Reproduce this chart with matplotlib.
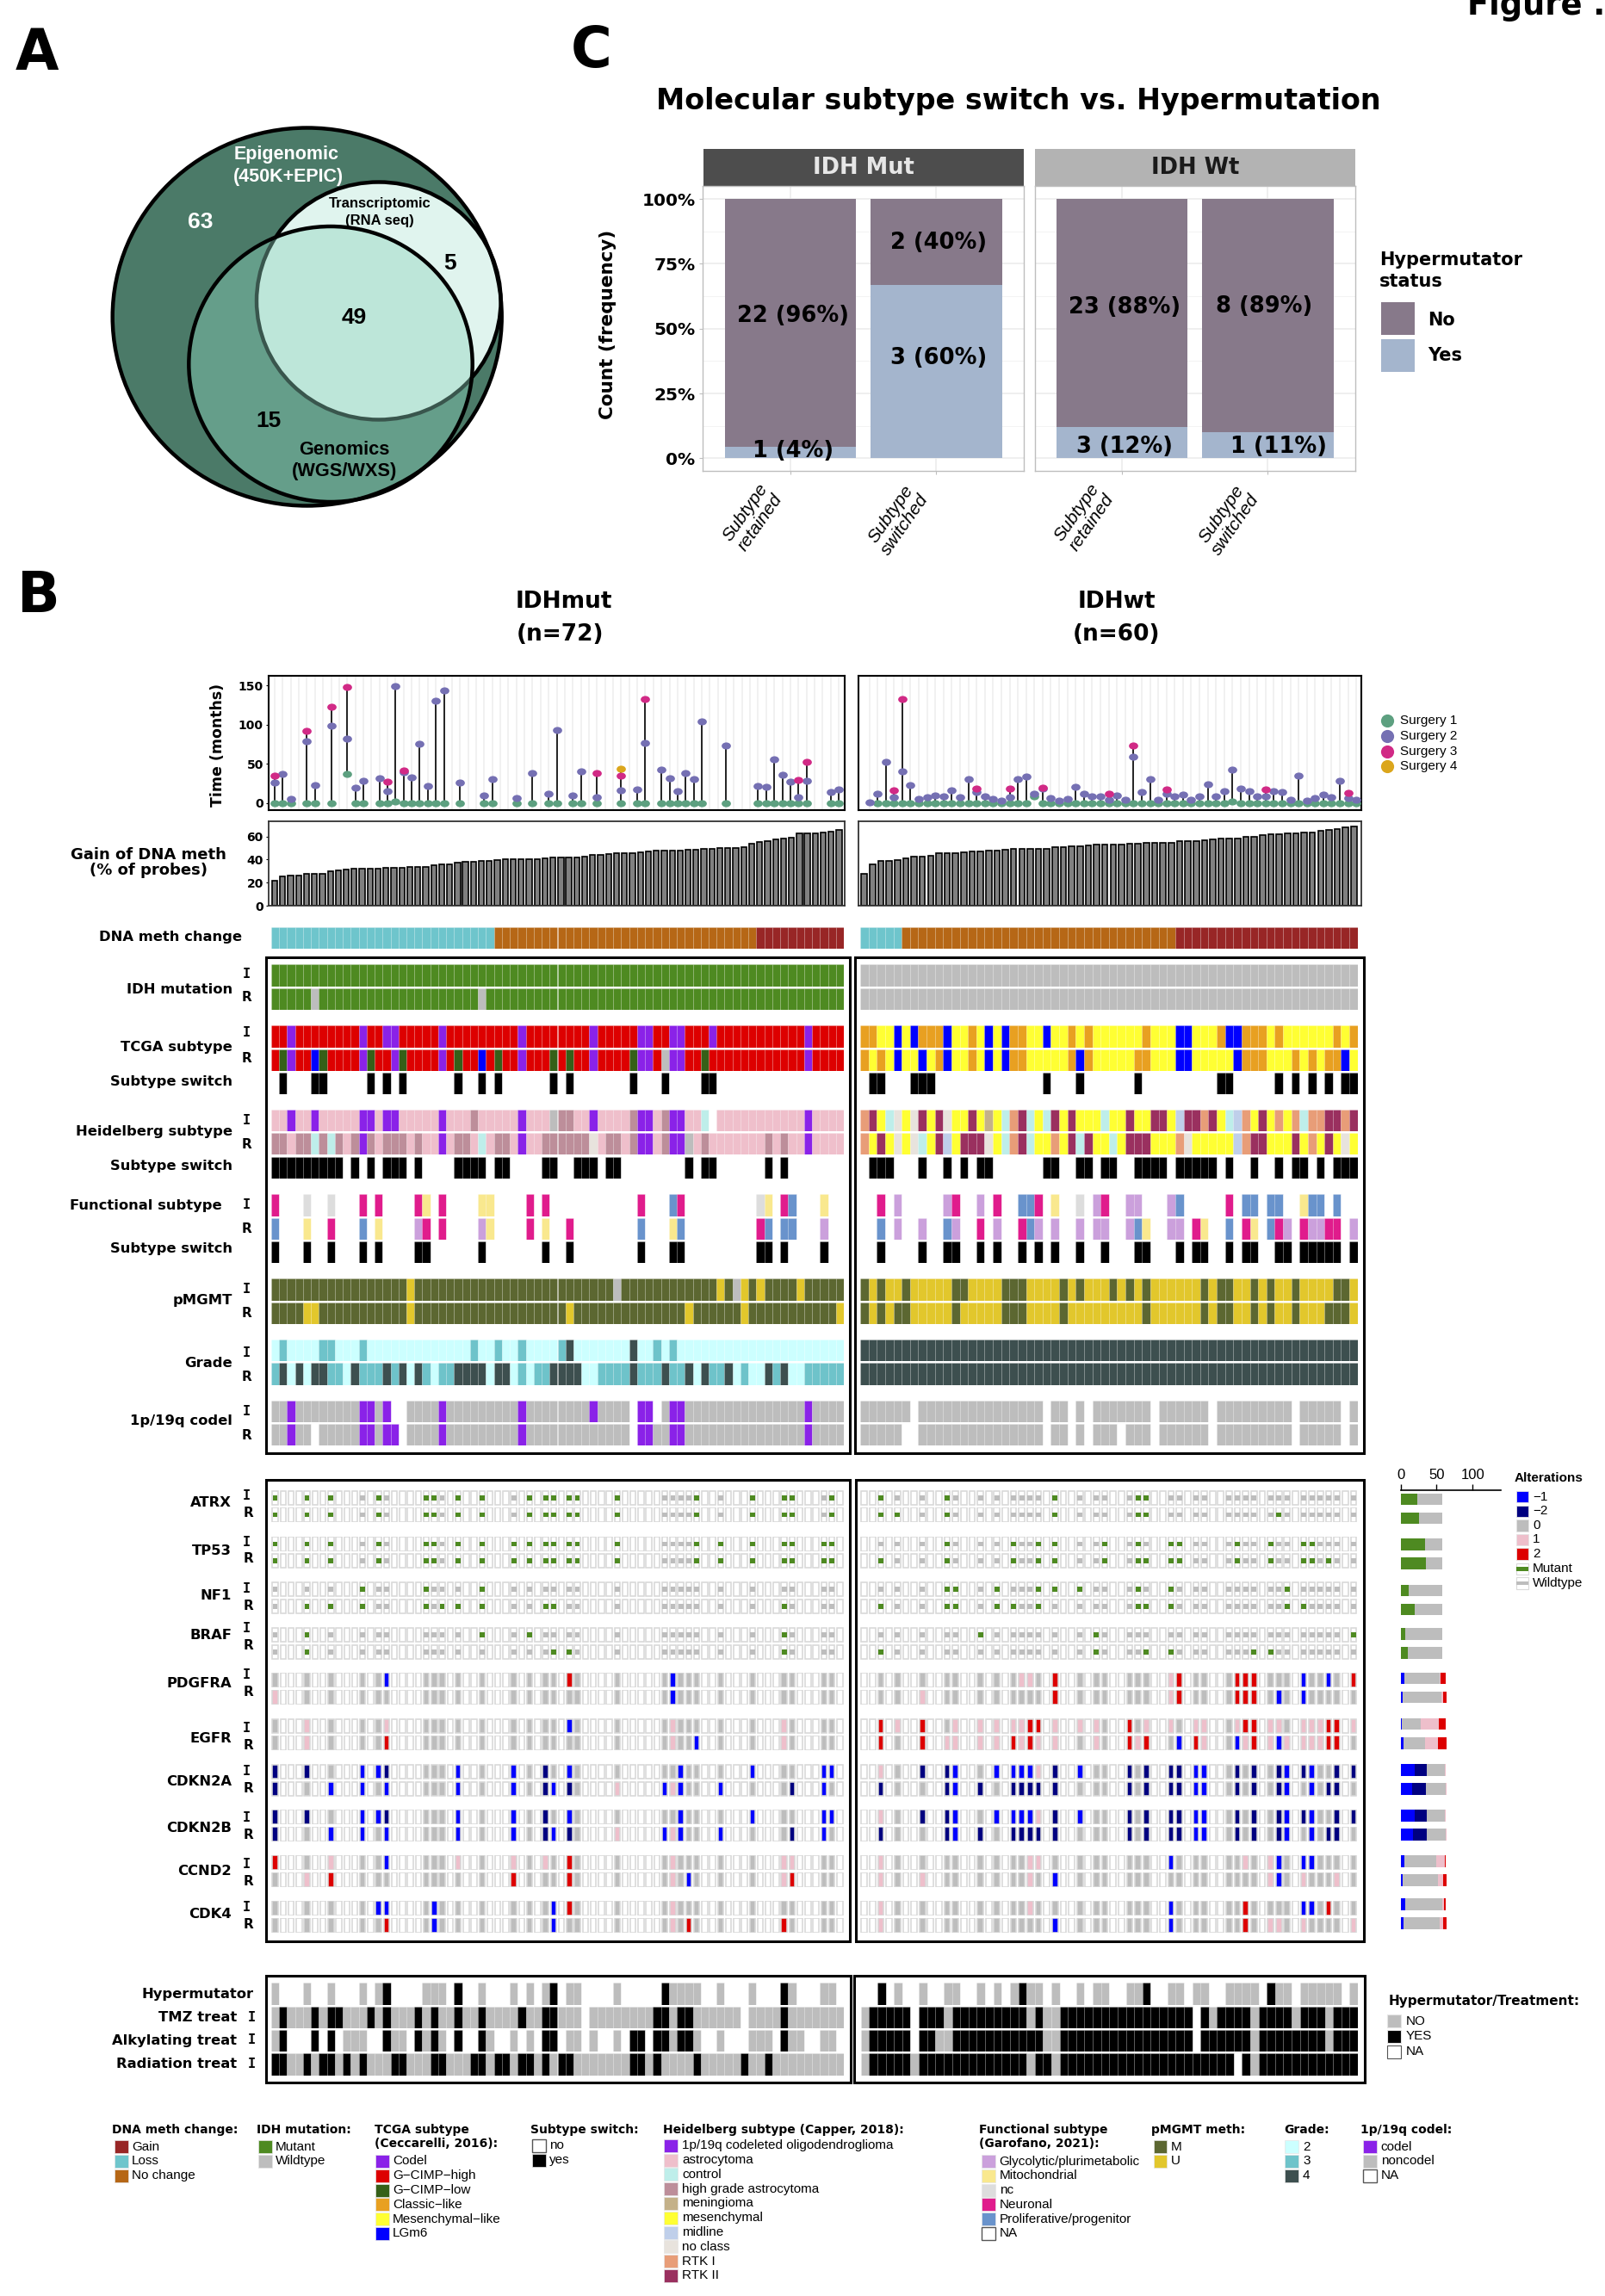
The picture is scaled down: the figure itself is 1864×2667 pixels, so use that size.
"""
Figure with venn of cohort (A), oncoprint of paired samples (B), subtype switch bars (C).
Everything is placed in pixels of the 1865x2667 page.
"""

import matplotlib
matplotlib.use('Agg')
import matplotlib.pyplot as plt
from matplotlib.patches import Ellipse, Rectangle
from matplotlib.path import Path
from matplotlib.transforms import Affine2D

W, H = 1865, 2667
SANS = 'Liberation Sans'
VERD = 'DejaVu Sans'


def cells(n, default, **cats):
    """Row of n categories: default everywhere, named columns overridden."""
    out = [default] * n
    for cat, idx in cats.items():
        for i in idx:
            out[i] = cat
    return out


N_MUT = 72
N_WT = 60

# --- panel C ---
C_YES = [[4.5, 66.7], [12, 10]]
C_LABELS = [
    [("22 (96%)", 1, 55), ("1 (4%)", 1, 2.8), ("2 (40%)", 2, 83), ("3 (60%)", 2, 38.5)],
    [("23 (88%)", 1, 58.3), ("3 (12%)", 1, 4.5), ("8 (89%)", 1.96, 58.6), ("1 (11%)", 2.06, 4.5)],
]

# --- time between surgeries ---
MUT_S2 = {0: 25.6, 1: 36.6, 2: 5, 4: 78.7, 5: 22.7, 7: 99, 9: 82, 10: 19.8, 11: 28.5, 13: 31.5, 14: 15,
          15: 149, 16: 39, 17: 32.6, 18: 75.7, 19: 22, 20: 130.6, 21: 144, 23: 25.6, 26: 10, 27: 30.4,
          30: 6, 32: 38.4, 34: 11.7, 35: 93, 37: 10, 38: 40, 40: 7, 43: 15.7, 45: 17.5, 46: 77, 48: 43,
          49: 31.5, 50: 15, 51: 38.4, 52: 30.4, 53: 104, 56: 73.5, 60: 21.6, 61: 20.9, 62: 56, 63: 35.5,
          64: 26.7, 65: 7, 66: 28.5, 69: 14, 70: 17.5}
MUT_S1_EXTRA = {9: 36.6, 15: 2}
MUT_S3 = {0: 34.4, 4: 91.5, 7: 122.6, 9: 148, 14: 27.4, 16: 41, 40: 38.4, 43: 35, 46: 132, 65: 29.6, 66: 52}
MUT_S4 = {43: 44}

WT_S2 = [1, 12, 52, 7.6, 40, 23, 5, 7, 10, 8,
         15.6, 7, 30.4, 14, 8, 5, 3, 7.6, 30, 33.5,
         12, 18, 6, 3, 5, 21, 11.5, 9, 9, 4,
         10, 4, 59, 14, 30, 4, 12, 8, 11, 4,
         8, 24, 8, 15, 43, 18, 15, 8, 9, 15,
         14, 4, 35, 3, 6, 11, 7, 28, 6, 4]
WT_S1_EXTRA = {20: 9, 44: 2}
WT_S1_MISSING = [0]
WT_S3 = {3: 16, 4: 132, 13: 18.5, 17: 18.5, 21: 19.5, 29: 11.5, 32: 73, 36: 17, 48: 17, 58: 13}

# --- gain of DNA methylation ---
GAIN_MUT = [22, 25.5, 26, 26.5, 27.5, 28, 27.8, 30, 30.5, 31,
            32, 32.3, 32.3, 32.3, 32.5, 32.8, 33, 33.5, 33.5, 33.8,
            35, 35.5, 36, 37.5, 38, 38, 38.5, 39, 39.5, 40,
            40, 40, 40.3, 40.5, 41, 42, 42, 42, 42, 42.3,
            44, 44.3, 45, 45.3, 45.3, 45.5, 46.5, 47, 47.5, 48,
            48, 48, 48.2, 48.5, 49, 49, 50, 50, 50, 50.5,
            54, 55, 56, 57.5, 58.5, 58.7, 63, 63, 63, 63.2, 64, 66]
GAIN_WT = [28, 36, 39, 39, 39.6, 41, 42.3, 42.5, 43.5, 45.3,
           45.8, 45.8, 46, 46.8, 46.8, 47.5, 47.8, 48.5, 49, 49.3,
           49.3, 49.5, 49.5, 50.5, 51, 51.3, 51.8, 52.3, 52.8, 53,
           53, 53.3, 54, 54, 54.3, 54.3, 54.5, 54.5, 56, 56,
           56.3, 57, 57.5, 58, 58.3, 58.5, 59.5, 60, 61.2, 61.7,
           61.7, 62.5, 63, 63.2, 63.7, 64.7, 65.5, 66.7, 68.2, 69]

METH_MUT = cells(N_MUT, 'nochange', loss=range(0, 28), gain=range(61, 72))
METH_WT = cells(N_WT, 'nochange', loss=range(0, 5), gain=range(38, 60))

# --- clinical / subtype rows ---
IDH_MUT_I = cells(N_MUT, 'mut')
IDH_MUT_R = cells(N_MUT, 'mut', wt=[5, 26])
IDH_WT_I = cells(N_WT, 'wt')
IDH_WT_R = cells(N_WT, 'wt')

TCGA_MUT_I = cells(N_MUT, 'high', codel=[2, 11, 14, 15, 21, 31, 40, 46, 47, 50, 51, 55, 67])
TCGA_MUT_R = cells(N_MUT, 'high', low=[1, 6, 12, 16, 23, 28, 35, 37, 45, 54], lgm6=[5, 26],
                   codel=[2, 11, 15, 21, 31, 40, 46, 47, 50, 51, 67], wt=[49])
TCGA_MUT_S = cells(N_MUT, 'na', yes=[1, 5, 6, 12, 14, 16, 23, 26, 28, 35, 37, 45, 49, 54, 55])
TCGA_WT_I = cells(N_WT, 'mes', classic=[0, 1, 7, 8, 9, 13, 18, 19, 25, 27, 34, 43, 46, 47, 48, 50, 57, 59],
                  lgm6=[4, 6, 10, 15, 17, 22, 38, 39, 44, 45])
TCGA_WT_R = cells(N_WT, 'mes', classic=[0, 2, 9, 13, 18, 19, 25, 27, 33, 34, 46, 47, 48, 52, 54, 56, 57],
                  lgm6=[4, 7, 10, 15, 17, 26, 38, 39, 45, 58])
TCGA_WT_S = cells(N_WT, 'na', yes=[1, 2, 6, 7, 8, 22, 26, 33, 43, 44, 50, 52, 54, 56, 58, 59])

HEID_MUT_I = cells(N_MUT, 'astro', codel=[2, 5, 11, 12, 14, 15, 21, 31, 40, 46, 47, 50, 51, 67],
                   hga=[25, 36, 37, 45, 49], wt=[35], control=[54], na=[55])
HEID_MUT_R = cells(N_MUT, 'astro',
                   hga=[0, 1, 3, 4, 6, 8, 10, 12, 14, 15, 16, 18, 23, 24, 28, 29, 34, 35, 36, 37, 38, 39,
                        42, 43, 45, 49, 54, 62, 64],
                   control=[5, 7, 26], noclass=[40], codel=[11, 21, 31, 46, 47, 50, 51, 67], wt=[52])
HEID_MUT_S = cells(N_MUT, 'na', yes=[0, 1, 2, 3, 4, 5, 6, 7, 8, 10, 12, 14, 15, 16, 18, 23, 24, 25, 26, 28, 29,
                                     34, 35, 38, 39, 40, 42, 43, 52, 54, 55, 62, 64])
HEID_WT_I = cells(N_WT, 'mes', rtk1=[0, 18, 41, 46, 50, 52, 54, 55, 58],
                  rtk2=[1, 7, 9, 13, 19, 23, 25, 32, 35, 36, 39, 40, 42, 48, 56, 57, 59],
                  control=[3, 17, 20, 22, 29, 44, 53], noclass=[4, 6, 10], mening=[15], midline=[38, 45])
HEID_WT_R = cells(N_WT, 'mes', rtk1=[0, 18, 23, 38, 46, 54], rtk2=[2, 9, 12, 13, 14, 19, 25, 27, 32, 33, 34,
                                                                   47, 48, 52, 56],
                  control=[7, 17, 20, 26, 30], noclass=[4, 6, 15, 39, 58], midline=[10, 45])
HEID_WT_S = cells(N_WT, 'na', yes=[1, 2, 3, 7, 10, 12, 14, 15, 22, 23, 26, 27, 29, 30, 33, 34, 35, 36,
                                   38, 39, 40, 41, 42, 44, 47, 50, 52, 53, 55, 57, 58, 59])

FUNC_MUT_I = cells(N_MUT, 'na', neuron=[0, 11, 13, 18, 21, 32, 34, 46, 51, 64], nc=[4, 7, 61],
                   mito=[19, 26, 27, 62, 69], prolif=[50, 65])
FUNC_MUT_R = cells(N_MUT, 'na', prolif=[0, 11, 46, 51, 62, 64, 65], mito=[4, 13, 27, 34, 50],
                   neuron=[7, 19, 21, 32, 37, 61], glyco=[18, 26, 69])
FUNC_MUT_S = cells(N_MUT, 'na', yes=[0, 4, 7, 11, 13, 18, 19, 26, 34, 37, 46, 50, 51, 61, 62, 64, 69])
FUNC_WT_I = cells(N_WT, 'na', neuron=[2, 11, 16, 21, 29, 44], glyco=[4, 10, 14, 28, 32, 33, 37],
                  prolif=[19, 20, 38, 46, 47, 49, 50, 54, 55, 57], mito=[23, 53], nc=[26])
FUNC_WT_R = cells(N_WT, 'na', prolif=[2, 10, 20, 33, 44, 49],
                  glyco=[4, 7, 11, 16, 21, 23, 26, 28, 29, 32, 37, 38, 51, 54, 55, 59],
                  neuron=[14, 19, 40, 46, 50, 53, 56, 57], mito=[34, 41, 47])
FUNC_WT_S = cells(N_WT, 'na', yes=[2, 7, 10, 11, 14, 16, 19, 21, 23, 26, 29, 33, 34, 38, 40, 41, 44, 46, 47,
                                   50, 51, 53, 54, 55, 56, 57, 59])

MGMT_MUT_I = cells(N_MUT, 'M', U=[17, 56, 59, 61, 66], wt=[43, 58])
MGMT_MUT_R = cells(N_MUT, 'M', U=[4, 5, 17, 37, 52, 59, 71])
MGMT_WT_I = cells(N_WT, 'U', M=[0, 2, 5, 11, 12, 17, 18, 19, 24, 26, 30, 32, 34, 41, 43, 44, 47, 49, 52, 57, 58])
MGMT_WT_R = cells(N_WT, 'U', M=[0, 2, 4, 5, 11, 17, 18, 19, 24, 34, 41, 43, 44, 47, 49, 52, 56, 57, 58])

GRADE_MUT_I = cells(N_MUT, 'g2', g3=[1, 6, 7, 11, 25, 28, 31, 36, 48, 50], g4=[37, 45])
GRADE_MUT_R = cells(N_MUT, 'g3',
                    g2=[2, 4, 9, 17, 20, 27, 30, 32, 39, 40, 53, 58, 60, 61, 65, 66],
                    g4=[1, 3, 5, 6, 10, 14, 16, 18, 23, 24, 25, 26, 28, 29, 35, 36, 37, 38, 45, 49, 52, 54, 57,
                        62, 64])
GRADE_WT_I = cells(N_WT, 'g4')
GRADE_WT_R = cells(N_WT, 'g4')

CODEL_MUT_I = cells(N_MUT, 'wt', codel=[2, 11, 12, 14, 21, 31, 40, 46, 47, 50, 51, 67], na=[15, 16, 45, 48])
CODEL_MUT_R = cells(N_MUT, 'wt', codel=[2, 11, 12, 14, 15, 21, 31, 46, 47, 50, 51, 67], na=[5, 16, 45])
CODEL_WT_I = cells(N_WT, 'wt', na=[6, 22, 25, 27, 35, 42, 52, 58])
CODEL_WT_R = cells(N_WT, 'wt', na=[5, 6, 22, 25, 27, 31, 35, 42, 52, 58])

# --- genes: columns with sequencing / array data ---
DATA_MUT = [0, 4, 7, 11, 13, 14, 19, 20, 21, 23, 26, 30, 32, 34, 35, 37, 38, 43, 49, 50, 51, 52, 53,
            56, 60, 64, 65, 69, 70]
DATA_WT = [2, 4, 7, 10, 11, 14, 16, 18, 19, 20, 21, 23, 26, 28, 29, 32, 33, 34, 37, 38, 40, 41, 44, 45, 46, 47,
           49, 50, 51, 53, 54, 55, 56, 57, 59]

GENE_NAMES = ["ATRX", "TP53", "NF1", "BRAF", "PDGFRA", "EGFR", "CDKN2A", "CDKN2B", "CCND2", "CDK4"]

SNV_MUT = {
    "ATRX": ([0, 4, 7, 13, 19, 20, 23, 26, 32, 34, 35, 37, 38, 43, 53, 60, 64, 65, 70],
             [0, 4, 7, 13, 19, 20, 23, 26, 32, 34, 35, 37, 38, 43, 53, 60, 64, 65, 70]),
    "TP53": ([0, 4, 7, 13, 19, 20, 23, 26, 30, 32, 34, 35, 37, 38, 43, 53, 56, 60, 64, 65, 69, 70],
             [0, 4, 7, 13, 19, 20, 23, 26, 30, 32, 34, 35, 37, 38, 43, 53, 56, 60, 64, 65, 69, 70]),
    "NF1": ([11, 19, 26], [4, 7, 11, 19, 21, 23, 26, 34, 35, 64]),
    "BRAF": ([4, 26, 32, 64], [4, 35, 37, 64]),
}
SNV_WT = {
    "ATRX": ([2, 10, 23, 33, 34], [2, 4, 10, 23, 33, 34, 50]),
    "TP53": ([10, 18, 21, 23, 29, 33, 37, 38, 45, 49, 53, 54],
             [2, 10, 18, 21, 23, 29, 33, 34, 37, 38, 45, 49, 53, 54, 56]),
    "NF1": ([10, 11, 16, 21, 23, 26, 33, 37, 51], [2, 10, 11, 16, 18, 21, 33, 34, 37, 51, 53]),
    "BRAF": ([14, 28, 59], [2, 28, 34, 37, 47, 49]),
}
# copy number: (loss -1, deep -2, gain 1, amp 2) for initial then recurrence
CNV_MUT = {
    "PDGFRA": (([14, 50], [], [], [37]), ([50], [], [0], [])),
    "EGFR": (([37], [], [4, 14, 50, 64], []), ([53], [], [4, 50, 64], [14])),
    "CDKN2A": (([11, 13, 23, 30, 37, 51, 60, 69, 70], [0, 4, 14, 34], [], []),
               ([7, 11, 14, 23, 30, 35, 49, 51, 56, 69], [0, 34, 37, 65], [43, 50], [])),
    "CDKN2B": (([11, 13, 23, 30, 37, 51, 60, 69, 70], [0, 4, 14, 34], [], []),
               ([7, 11, 14, 23, 30, 35, 49, 51, 56, 69], [0, 34, 37, 65], [43, 50], [])),
    "CCND2": (([14], [], [7, 23, 30, 34, 50, 64, 65], [0, 37]), ([52], [], [4, 50, 64], [7, 30, 37, 65])),
    "CDK4": (([13, 14, 20, 35], [], [50], [37]), ([20, 35], [], [50], [14, 52, 64])),
}
CNV_WT = {
    "PDGFRA": (([53, 56], [], [19, 20, 37], [23, 38, 45, 46, 47, 59]), ([50, 53], [], [7, 37], [23, 38, 45, 46, 47])),
    "EGFR": (([], [], [4, 11, 14, 16, 18, 19, 23, 26, 28, 34, 37, 40, 41, 45, 49, 50, 53, 54, 55, 59],
              [2, 7, 20, 21, 32, 46, 47, 56, 57]),
             ([38, 45, 50], [], [10, 11, 14, 16, 19, 21, 23, 28, 33, 41, 46, 49, 51, 53, 54, 55],
              [2, 7, 18, 20, 32, 34, 40, 47, 56, 57])),
    "CDKN2A": (([11, 16, 18, 19, 20, 26, 40, 41, 51, 54], [7, 10, 23, 32, 34, 37, 38, 45, 47, 50, 53, 57, 59], [2, 21], []),
               ([11, 40, 41, 51, 54], [2, 10, 14, 18, 19, 20, 21, 23, 32, 34, 37, 38, 45, 47, 50, 56, 57], [], [])),
    "CDKN2B": (([11, 16, 18, 19, 20, 26, 40, 41, 51, 54], [7, 10, 23, 32, 34, 37, 38, 45, 47, 50, 53, 57, 59], [2, 21], []),
               ([11, 40, 41, 51, 54], [2, 10, 14, 18, 19, 20, 21, 23, 32, 34, 37, 38, 45, 47, 50, 56, 57], [], [])),
    "CCND2": (([37, 50, 53, 54], [], [2, 20, 21, 46, 49], []), ([23, 50], [], [2, 7, 20, 49, 53, 57], [])),
    "CDK4": (([37, 53, 54], [], [2, 20], [46, 56]), ([23, 37], [], [2, 49, 50, 53, 59], [46])),
}

# alteration frequency bars, initial then recurrence per gene
SNV_FREQ = {"ATRX": [(23.6, 34.5), (25, 33)], "TP53": [(34, 24), (35, 23)],
            "NF1": [(11.5, 46.5), (20, 38)], "BRAF": [(6.8, 51), (9.5, 48.5)]}
# blue, dark, grey, pink, red
CNV_FREQ = {"PDGFRA": [(4.7, 0, 49.3, 1.4, 7.5), (3, 0, 53.4, 2, 5.4)],
            "EGFR": [(1.4, 0, 27, 25, 9.5), (4, 0, 30, 18, 11.5)],
            "CDKN2A": [(19, 17, 25.7, 1.4, 0), (16, 19.6, 27, 1.4, 0)],
            "CDKN2B": [(19, 17, 25.7, 1.4, 0), (17, 19, 26, 2, 0)],
            "CCND2": [(4.7, 0, 44.6, 11.5, 2), (2.7, 0, 48.6, 8, 4.7)],
            "CDK4": [(6.8, 0, 51, 2, 2.7), (4, 0, 50, 5.4, 4.7)]}

# --- hypermutator and treatment ---
HYPER_MUT = cells(N_MUT, 'na', wt=[0, 4, 7, 11, 13, 19, 20, 21, 26, 30, 32, 34, 37, 38, 43, 50, 51, 52, 53, 56, 60,
                                   65, 69, 70], yes=[14, 23, 35, 49, 64])
TMZ_MUT = cells(N_MUT, 'wt', yes=[1, 5, 7, 8, 12, 14, 18, 20, 23, 26, 31, 34, 35, 48, 49, 51, 52, 64], na=[39, 59])
ALK_MUT = cells(N_MUT, 'na', yes=[1, 5, 7, 14, 18, 20, 23, 26, 34, 35, 45, 46, 48, 49, 51, 52, 64],
                wt=[0, 9, 10, 11, 15, 16, 19, 21, 27, 30, 32, 37, 38, 40, 43, 50, 53, 56, 60, 61, 62, 65, 66, 69, 70])
RAD_MUT = cells(N_MUT, 'wt', yes=[0, 1, 4, 6, 7, 9, 11, 15, 16, 20, 21, 25, 26, 28, 29, 31, 32, 34, 36, 37, 45, 46,
                                  48, 53, 59, 62])
HYPER_WT = cells(N_WT, 'na', yes=[2, 19, 34, 49],
                 wt=[4, 7, 10, 11, 14, 16, 18, 20, 21, 23, 26, 28, 29, 32, 33, 37, 38, 40, 41, 44, 45, 46, 47, 50, 51,
                     53, 54, 55, 56, 57, 59])
TMZ_WT = cells(N_WT, 'yes', wt=[0, 10, 20, 22, 23, 42, 47, 52, 56], na=[6, 40])
ALK_WT = cells(N_WT, 'yes', wt=[0, 9, 10, 22, 23, 47, 56], na=[6, 40])
RAD_WT = cells(N_WT, 'yes', wt=[0, 6, 20, 23, 47], na=[45])

PAL = {
    'mut': '#4E8A21', 'wt': '#BDBDBD', 'na': '#FFFFFF', 'yes': '#000000',
    'gain': '#982626', 'loss': '#6EC5CC', 'nochange': '#B66716',
    'codel': '#8A22E8', 'high': '#DD0000', 'low': '#356018', 'classic': '#E8A021', 'mes': '#FFFF33', 'lgm6': '#0000FF',
    'astro': '#EFBFCB', 'control': '#BEEEEA', 'hga': '#BD8E9A', 'mening': '#C4B189', 'midline': '#BFCFEA',
    'noclass': '#E8E3DD', 'rtk1': '#E89D78', 'rtk2': '#9A305F',
    'glyco': '#CBA0DC', 'mito': '#F9E88E', 'nc': '#DDDDDD', 'neuron': '#E01C8C', 'prolif': '#6993CC',
    'M': '#5C6731', 'U': '#E2C72C', 'g2': '#CCFFFF', 'g3': '#6EC3CA', 'g4': '#3D4F4F',
    'm1': '#0000FF', 'm2': '#000080', 'c0': '#BDBDBD', 'p1': '#EEBFCB', 'p2': '#DD0000',
}
SURGERY = ['#5DA080', '#7570B3', '#D12A86', '#DBA61C']

fig = plt.figure(figsize=(W / 100, H / 100), dpi=100, facecolor='white')

page = fig.add_axes([0, 0, 1, 1])
page.set_xlim(0, W)
page.set_ylim(H, 0)
page.axis('off')


def px_axes(x0, y0, x1, y1):
    return fig.add_axes([x0 / W, 1 - y1 / H, (x1 - x0) / W, (y1 - y0) / H])


def label(x, y, s, size=11.8, ha='right', family=VERD, weight='bold', **kw):
    page.text(x, y, s, fontsize=size, ha=ha, va='center', family=family, fontweight=weight,
              linespacing=1.15, **kw)


def frame(x0, y0, x1, y1, lw=2.2, color='black'):
    page.add_patch(Rectangle((x0, y0), x1 - x0, y1 - y0, fc='none', ec=color, lw=lw))


def heat(x0, x1, y0, y1, row):
    ax = px_axes(x0, y0, x1, y1)
    ax.bar(range(len(row)), 1, width=1, color=[PAL[c] for c in row], edgecolor=(1, 1, 1, 0.13), linewidth=0.6)
    ax.set_xlim(-0.5, len(row) - 0.5)
    ax.set_ylim(0, 1)
    ax.axis('off')


def gene_row(x0, x1, y0, y1, n, data_cols, snv=None, cnv=None):
    ax = px_axes(x0, y0, x1, y1)
    xs = list(range(n))
    if cnv is not None:
        col = cells(n, 'na', c0=data_cols)
        for cat, idx in zip(['m1', 'm2', 'p1', 'p2'], cnv):
            for i in idx:
                col[i] = cat
        ax.bar(xs, 1, width=0.7, color=[PAL[c] for c in col], edgecolor='#D8D8D8', linewidth=1.15)
    else:
        ax.bar(xs, 1, width=0.7, color='white', edgecolor='#D8D8D8', linewidth=1.15)
        col = cells(n, 'na', c0=data_cols, mut=snv)
        keep = [i for i in xs if col[i] != 'na']
        ax.bar(keep, 0.34, width=0.62, bottom=0.33, color=[PAL[col[i]] for i in keep])
    ax.set_xlim(-0.5, n - 0.5)
    ax.set_ylim(-0.03, 1.03)
    ax.axis('off')


# ------------------------------ panel letters ------------------------------
for s, x, y in [('A', 18, 63), ('C', 663, 60), ('B', 20, 693)]:
    page.text(x, y, s, fontsize=47, fontweight='bold', family=VERD, va='center', ha='left')
page.text(1704, 17, 'Figure .', fontsize=26.5, fontweight='bold', family=VERD, va='baseline', ha='left')

# ------------------------------ panel A ------------------------------
page.add_patch(Ellipse((356.7, 368), 452, 439, fc='#4B7A68', ec='none'))
page.add_patch(Ellipse((439.8, 349.5), 283.6, 276, fc='#E0F4EE', ec='black', lw=3.2))
page.add_patch(Ellipse((384, 423), 329.4, 320, fc=(140 / 255, 210 / 255, 188 / 255, 0.41), ec='none'))
page.add_patch(Ellipse((384, 423), 329.4, 320, fc='none', ec='black', lw=3.2))
page.add_patch(Ellipse((356.7, 368), 452, 439, fc='none', ec='black', lw=3.2))
label(333, 179, 'Epigenomic', 15.5, 'center', SANS, color='white')
label(335, 205, '(450K+EPIC)', 15.5, 'center', SANS, color='white')
label(441, 236, 'Transcriptomic', 12, 'center', SANS)
label(441, 256, '(RNA seq)', 12, 'center', SANS)
label(400, 522, 'Genomics', 15.7, 'center', SANS)
label(400, 548, '(WGS/WXS)', 15.7, 'center', SANS)
label(233, 258, '63', 19, 'center', SANS, color='white')
label(523, 306, '5', 19, 'center', SANS)
label(411, 369, '49', 19, 'center', SANS)
label(312, 489, '15', 19, 'center', SANS)

# ------------------------------ panel C ------------------------------
page.text(1183, 117, 'Molecular subtype switch vs. Hypermutation', fontsize=24, fontweight='bold', family=VERD,
          ha='center', va='center')
C_BOXES = [(816.5, 1189), (1201.7, 1574)]
C_TICK_PX = [(918, 1088), (1303, 1472)]
C_STRIPS = [('IDH Mut', '#4D4D4D', '#E6E6E6'), ('IDH Wt', '#B3B3B3', '#1A1A1A')]
C_TICK_TEXT = ['Subtype\nretained', 'Subtype\nswitched']
for j, (x0, x1) in enumerate(C_BOXES):
    name, bg, fg = C_STRIPS[j]
    page.add_patch(Rectangle((x0, 173), x1 - x0, 43, fc=bg, ec='none'))
    label((x0 + x1) / 2, 195, name, 18.5, 'center', color=fg)
    ax = px_axes(x0, 216, x1, 547)
    yes = C_YES[j]
    no = [100 - v for v in yes]
    ax.bar([1, 2], yes, width=0.9, color='#A4B5CD', zorder=3)
    ax.bar([1, 2], no, width=0.9, bottom=yes, color='#87798A', zorder=3)
    ax.set_xlim(0.4, 2.6)
    ax.set_ylim(-4.85, 105)
    ax.set_yticks([0, 25, 50, 75, 100])
    ax.set_yticks([12.5, 37.5, 62.5, 87.5], minor=True)
    ax.grid(True, which='major', color='#EBEBEB', lw=1.1, zorder=0)
    ax.grid(True, which='minor', axis='y', color='#F3F3F3', lw=0.7, zorder=0)
    ax.tick_params(which='minor', length=0)
    ax.tick_params(axis='both', colors='#BEBEBE', length=3)
    ax.set_xticks([1, 2])
    ax.set_xticklabels(['', ''])
    for tick_x, s in zip(C_TICK_PX[j], C_TICK_TEXT):
        page.text(tick_x - 22, 570, s, rotation=55, ha='right', va='center', rotation_mode='anchor',
                  style='italic', family=SANS, fontsize=15, linespacing=1.1, multialignment='center')
    if j == 0:
        ax.set_yticklabels(['0%', '25%', '50%', '75%', '100%'], fontweight='bold', fontsize=14.5, color='black',
                           family=VERD)
    else:
        ax.tick_params(axis='y', left=False, labelleft=False)
    for sp in ax.spines.values():
        sp.set_color('#BEBEBE')
        sp.set_linewidth(1)
    for s, x, y in C_LABELS[j]:
        ax.text(x + 0.015, y, s, fontsize=18.5, fontweight='bold', family=VERD, ha='center', va='center', zorder=5,
                color='black')
page.text(706, 377, 'Count (frequency)', rotation=90, fontsize=15.5, fontweight='bold', family=VERD,
          ha='center', va='center')
label(1602, 302, 'Hypermutator', 15, 'left')
label(1602, 327, 'status', 15, 'left')
page.add_patch(Rectangle((1604, 351), 39, 38, fc='#87798A', ec='none'))
page.add_patch(Rectangle((1604, 393.5), 39, 38, fc='#A4B5CD', ec='none'))
label(1658, 372, 'No', 15, 'left')
label(1658, 413, 'Yes', 15, 'left')

# ------------------------------ panel B header ------------------------------
label(655, 699, 'IDHmut', 19, 'center')
label(651, 737, '(n=72)', 19, 'center')
label(1297, 699, 'IDHwt', 19, 'center')
label(1297, 737, '(n=60)', 19, 'center')

# ------------------------------ time panels ------------------------------
ELLIPSE = Path.unit_circle().transformed(Affine2D().scale(1, 0.76))


def time_panel(box, xlim, ncol, s1, s2, s3, s4, ticks):
    ax = px_axes(box[0], 785, box[1], 941)
    ax.set_xlim(*xlim)
    ax.set_ylim(-(941 - 932.7) / 0.911, (932.7 - 785) / 0.911)
    ax.vlines(range(ncol), *ax.get_ylim(), color='#EDEDED', lw=1.1, zorder=1)
    for c in set(s1) | set(s2):
        ys = [d[c] for d in (s1, s2, s3, s4) if c in d]
        ax.vlines(c, min(ys), max(ys), color='black', lw=1.2, zorder=2)
    for d, col in zip((s1, s2, s3, s4), SURGERY):
        ax.scatter(list(d.keys()), list(d.values()), s=60, marker=ELLIPSE, color=col, zorder=3, linewidths=0)
    ax.set_xticks([])
    if ticks:
        ax.set_yticks([0, 50, 100, 150])
        ax.set_yticklabels(['0', '50', '100', '150'], fontsize=10, fontweight='bold', family=VERD)
        ax.tick_params(axis='y', length=2.5, pad=2)
    else:
        ax.set_yticks([])
    for sp in ax.spines.values():
        sp.set_linewidth(1.5)


mut_s1 = {c: MUT_S1_EXTRA.get(c, 0) for c in MUT_S2}
wt_s1 = {c: WT_S1_EXTRA.get(c, 0) for c in range(N_WT) if c not in WT_S1_MISSING}
wt_s2 = dict(enumerate(WT_S2))
time_panel((312, 981), (-0.75, 70.74), 71, mut_s1, MUT_S2, MUT_S3, MUT_S4, True)
time_panel((997, 1581), (-1.31, 59.6), 60, wt_s1, wt_s2, WT_S3, {}, False)
page.text(253, 865, 'Time (months)', rotation=90, fontsize=12.5, fontweight='bold', family=VERD, ha='center',
          va='center')
for i, y in enumerate([837, 855, 873, 890]):
    page.scatter([1611], [y], s=120, color=SURGERY[i], linewidths=0)
    label(1626, y, f'Surgery {i + 1}', 11, 'left', SANS, weight='normal')


# ------------------------------ gain of methylation ------------------------------
def gain_panel(box, xlim, vals, ticks):
    ax = px_axes(box[0], 953.7, box[1], 1052)
    ax.bar(range(len(vals)), vals, width=0.68, color='#808080', edgecolor='black', linewidth=1.2)
    ax.set_xlim(*xlim)
    ax.set_ylim(0, 73.4)
    ax.set_xticks([])
    if ticks:
        ax.set_yticks([0, 20, 40, 60])
        ax.set_yticklabels(['0', '20', '40', '60'], fontsize=10, fontweight='bold', family=VERD)
        ax.tick_params(axis='y', length=2.5, pad=2)
    else:
        ax.set_yticks([])
    for sp in ax.spines.values():
        sp.set_linewidth(1.3)
        sp.set_color('#333333')


gain_panel((312, 981), (-0.76, 71.7), GAIN_MUT, True)
gain_panel((997, 1581), (-0.7, 59.9), GAIN_WT, False)
label(172, 993, 'Gain of DNA meth', 13, 'center')
label(172, 1011, '(% of probes)', 13, 'center')

# ------------------------------ heat rows ------------------------------
L_X = (315, 980)
R_X = (999, 1576.7)
heat(*L_X, 1077, 1102, METH_MUT)
heat(*R_X, 1077, 1102, METH_WT)
label(281, 1088, 'DNA meth change')

HEAT_ROWS = [
    (1120, 1146, IDH_MUT_I, IDH_WT_I), (1147.5, 1173, IDH_MUT_R, IDH_WT_R),
    (1191, 1217, TCGA_MUT_I, TCGA_WT_I), (1218.5, 1243.5, TCGA_MUT_R, TCGA_WT_R), (1246, 1271, TCGA_MUT_S, TCGA_WT_S),
    (1289, 1314, HEID_MUT_I, HEID_WT_I), (1316, 1341, HEID_MUT_R, HEID_WT_R), (1344, 1369, HEID_MUT_S, HEID_WT_S),
    (1387, 1413, FUNC_MUT_I, FUNC_WT_I), (1415, 1440, FUNC_MUT_R, FUNC_WT_R), (1442, 1467, FUNC_MUT_S, FUNC_WT_S),
    (1485, 1511, MGMT_MUT_I, MGMT_WT_I), (1512.5, 1538, MGMT_MUT_R, MGMT_WT_R),
    (1556, 1581, GRADE_MUT_I, GRADE_WT_I), (1583, 1609, GRADE_MUT_R, GRADE_WT_R),
    (1627, 1652, CODEL_MUT_I, CODEL_WT_I), (1654, 1679, CODEL_MUT_R, CODEL_WT_R),
]
for y0, y1, mut_row, wt_row in HEAT_ROWS:
    heat(*L_X, y0, y1, mut_row)
    heat(*R_X, y0, y1, wt_row)
frame(309, 1112, 987, 1688)
frame(993, 1112, 1584, 1688)

for s, x, y in [('IDH mutation', 270, 1149), ('TCGA subtype', 270, 1217), ('Subtype switch', 270, 1256),
                ('Heidelberg subtype', 270, 1315), ('Subtype switch', 270, 1354), ('Functional subtype', 258, 1401),
                ('Subtype switch', 270, 1450), ('pMGMT', 270, 1510), ('Grade', 270, 1584), ('1p/19q codel', 270, 1650)]:
    label(x, y, s)


def ir(x, y, s):
    fam = 'DejaVu Sans Mono' if s == 'I' else VERD
    page.text(x, y, s, fontsize=11, fontweight='bold', family=fam, ha='center', va='center')


for y in [1131, 1200, 1301, 1399, 1498, 1571, 1640]:
    ir(286, y, 'I')
for y in [1158.5, 1229, 1329, 1427, 1525, 1599, 1667]:
    ir(287, y, 'R')

# ------------------------------ gene rows ------------------------------
GENE_Y = {"ATRX": (1731, 1749, 1751, 1768), "TP53": (1785, 1802, 1804, 1822), "NF1": (1837, 1855, 1857, 1875),
          "BRAF": (1890, 1908, 1910, 1928), "PDGFRA": (1943, 1960, 1963, 1980), "EGFR": (1996, 2014, 2016, 2033),
          "CDKN2A": (2049, 2067, 2069, 2087), "CDKN2B": (2102, 2119, 2122, 2139), "CCND2": (2155, 2172, 2175, 2192),
          "CDK4": (2208, 2225, 2228, 2245)}
GENE_LABEL_Y = [1746, 1801, 1854, 1900, 1955, 2019, 2069, 2123, 2174, 2224]
GENE_I_Y = [1737, 1791, 1845, 1891, 1946, 2007, 2057, 2112, 2165, 2215]
GENE_R_Y = [1757, 1810.5, 1865, 1912, 1966, 2027, 2078, 2132, 2185, 2236]

for g, ly, iy, ry in zip(GENE_NAMES, GENE_LABEL_Y, GENE_I_Y, GENE_R_Y):
    a, b, c, d = GENE_Y[g]
    for k, (y0, y1) in enumerate([(a, b), (c, d)]):
        if g in SNV_MUT:
            gene_row(*L_X, y0, y1, N_MUT, DATA_MUT, snv=SNV_MUT[g][k])
            gene_row(*R_X, y0, y1, N_WT, DATA_WT, snv=SNV_WT[g][k])
        else:
            gene_row(*L_X, y0, y1, N_MUT, DATA_MUT, cnv=CNV_MUT[g][k])
            gene_row(*R_X, y0, y1, N_WT, DATA_WT, cnv=CNV_WT[g][k])
    label(269, ly, g)
    ir(286, iy, 'I')
    ir(288, ry, 'R')
frame(309, 1719, 987, 2255)
frame(993.5, 1719, 1584, 2255)

# alteration bars on the right of the gene rows
BAR_Y = {"ATRX": (1741.5, 1763.5), "TP53": (1794, 1816), "NF1": (1847.5, 1869.5), "BRAF": (1898, 1920),
         "PDGFRA": (1949.5, 1971.5), "EGFR": (2002.5, 2025), "CDKN2A": (2056, 2078), "CDKN2B": (2109, 2131),
         "CCND2": (2162, 2184), "CDK4": (2212, 2234)}
side = px_axes(1626.7, 1731, 1743, 2250)
side.set_xlim(0, (1743 - 1626.7) / 0.836)
side.set_ylim(2250, 1731)
for g in GENE_NAMES:
    for k, yc in enumerate(BAR_Y[g]):
        if g in SNV_FREQ:
            vals, cols = SNV_FREQ[g][k], [PAL['mut'], PAL['wt']]
        else:
            vals, cols = CNV_FREQ[g][k], [PAL['m1'], PAL['m2'], PAL['c0'], PAL['p1'], PAL['p2']]
        left = 0
        for v, col in zip(vals, cols):
            side.barh(yc, v, height=13.2, left=left, color=col)
            left += v
side.xaxis.tick_top()
side.set_xticks([0, 50, 100])
side.set_xticklabels(['0', '50', '100'], fontsize=12, family=SANS)
side.tick_params(axis='x', length=5, width=1, pad=2)
side.set_yticks([])
for name, sp in side.spines.items():
    sp.set_visible(name == 'top')
    sp.set_linewidth(1.2)
side.patch.set_alpha(0)

label(1759, 1717, 'Alterations', 11, 'left', SANS)
ALT_LEGEND = [('−1', 'm1'), ('−2', 'm2'), ('0', 'c0'), ('1', 'p1'), ('2', 'p2')]
for i, (s, key) in enumerate(ALT_LEGEND):
    y = 1732 + i * 16.6
    page.add_patch(Rectangle((1761, y), 14, 13.4, fc=PAL[key], ec='#E5E5E5', lw=0.6))
    label(1780, y + 6.7, s, 11, 'left', SANS, weight='normal')
for i, (s, key) in enumerate([('Mutant', 'mut'), ('Wildtype', 'wt')]):
    y = 1815.6 + i * 16.6
    page.add_patch(Rectangle((1761, y), 14, 13.4, fc='white', ec='#DADADA', lw=0.8))
    page.add_patch(Rectangle((1761, y + 4.5), 14, 4.4, fc=PAL[key], ec='none'))
    label(1780, y + 6.7, s, 11, 'left', SANS, weight='normal')

# ------------------------------ hypermutator / treatment ------------------------------
TREAT_ROWS = [(2303, 2329, HYPER_MUT, HYPER_WT), (2331, 2356, TMZ_MUT, TMZ_WT),
              (2358, 2383, ALK_MUT, ALK_WT), (2385, 2411, RAD_MUT, RAD_WT)]
for y0, y1, mut_row, wt_row in TREAT_ROWS:
    heat(*L_X, y0, y1, mut_row)
    heat(999.7, 1577, y0, y1, wt_row)
frame(309, 2295, 987.5, 2419)
frame(992, 2295, 1585, 2419)
label(295, 2316, 'Hypermutator')
for s, y in [('TMZ treat', 2344), ('Alkylating treat', 2370), ('Radiation treat', 2397)]:
    label(275, y, s)
    ir(292, y, 'I')


# ------------------------------ legends ------------------------------
def legend(title, tx, sx, lx, y0, entries, size=11):
    for i, t in enumerate(title):
        label(tx, 2474 + i * 16, t, 10, 'left')
    for i, (s, key) in enumerate(entries):
        y = y0 + i * 16.8
        if key == 'na':
            page.add_patch(Rectangle((sx, y), 15.5, 15, fc='white', ec='#555555', lw=1))
        else:
            page.add_patch(Rectangle((sx, y), 15.5, 15, fc=PAL[key], ec='#E5E5E5', lw=0.5))
        label(lx, y + 7.5, s, size, 'left', SANS, weight='normal')


legend(['DNA meth change:'], 130, 133, 153, 2486, [('Gain', 'gain'), ('Loss', 'loss'), ('No change', 'nochange')])
legend(['IDH mutation:'], 298, 300, 320, 2486, [('Mutant', 'mut'), ('Wildtype', 'wt')])
legend(['TCGA subtype', '(Ceccarelli, 2016):'], 435, 436, 456, 2503,
       [('Codel', 'codel'), ('G−CIMP−high', 'high'), ('G−CIMP−low', 'low'), ('Classic−like', 'classic'),
        ('Mesenchymal−like', 'mes'), ('LGm6', 'lgm6')])
legend(['Subtype switch:'], 615.5, 618, 638, 2484.7, [('no', 'na'), ('yes', 'yes')])
legend(['Heidelberg subtype (Capper, 2018):'], 770, 771, 792, 2484.7,
       [('1p/19q codeleted oligodendroglioma', 'codel'), ('astrocytoma', 'astro'), ('control', 'control'),
        ('high grade astrocytoma', 'hga'), ('meningioma', 'mening'), ('mesenchymal', 'mes'), ('midline', 'midline'),
        ('no class', 'noclass'), ('RTK I', 'rtk1'), ('RTK II', 'rtk2')])
legend(['Functional subtype', '(Garofano, 2021):'], 1137, 1140, 1160.6, 2503,
       [('Glycolytic/plurimetabolic', 'glyco'), ('Mitochondrial', 'mito'), ('nc', 'nc'), ('Neuronal', 'neuron'),
        ('Proliferative/progenitor', 'prolif'), ('NA', 'na')])
legend(['pMGMT meth:'], 1337, 1339.5, 1360, 2486, [('M', 'M'), ('U', 'U')])
legend(['Grade:'], 1491, 1492, 1513, 2486, [('2', 'g2'), ('3', 'g3'), ('4', 'g4')])
legend(['1p/19q codel:'], 1580, 1583, 1603.6, 2486, [('codel', 'codel'), ('noncodel', 'wt'), ('NA', 'na')])

label(1612.6, 2324, 'Hypermutator/Treatment:', 11, 'left')
for i, (s, key) in enumerate([('NO', 'wt'), ('YES', 'yes'), ('NA', 'na')]):
    y = 2340 + i * 17.8
    ec = '#555555' if key == 'na' else '#E5E5E5'
    page.add_patch(Rectangle((1611, y), 16, 15.2, fc=PAL[key], ec=ec, lw=0.8))
    label(1633, y + 7.6, s, 11, 'left', SANS, weight='normal')

plt.savefig('out.png', dpi=100)
